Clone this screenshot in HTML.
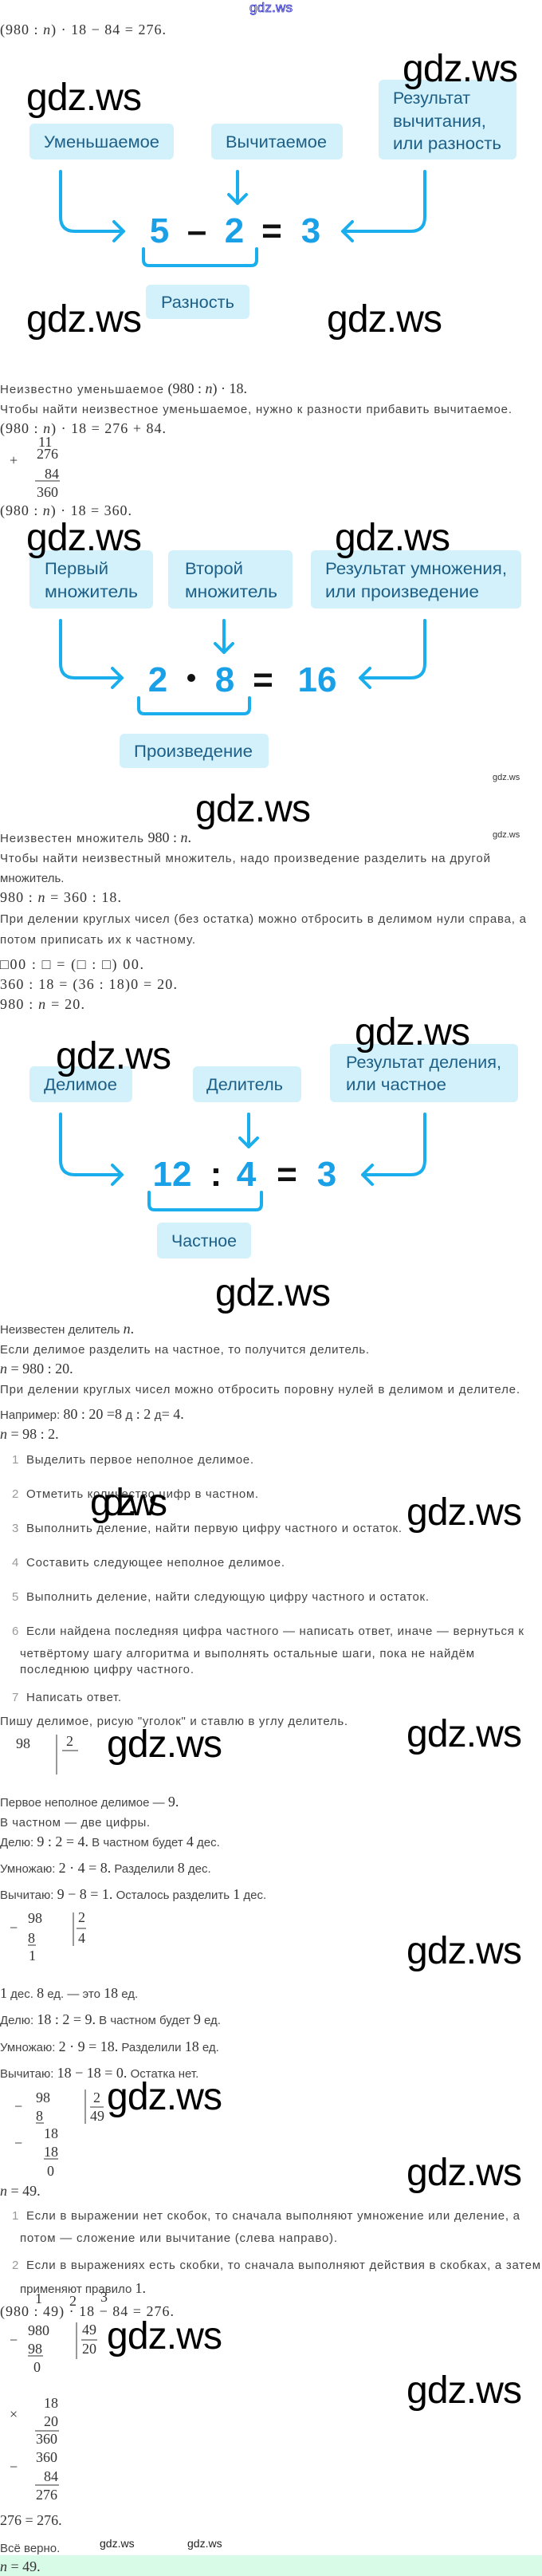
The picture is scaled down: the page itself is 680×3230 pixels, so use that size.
<!DOCTYPE html>
<html><head><meta charset="utf-8">
<style>
html,body{margin:0;padding:0;background:#fff;}
svg{display:block;}
.s{font-family:"Liberation Sans",sans-serif;font-size:15px;fill:#444;}
.m{font-family:"Liberation Serif",serif;font-size:18px;fill:#333;}
.b{font-family:"Liberation Sans",sans-serif;font-size:21px;fill:#1d5f86;}
.n{font-family:"Liberation Sans",sans-serif;font-size:44px;font-weight:bold;fill:#1aa0e6;}
.o{font-family:"Liberation Sans",sans-serif;font-size:44px;font-weight:bold;fill:#111;}
.w{font-family:"Liberation Sans",sans-serif;font-size:48px;fill:#000;}
.li{font-family:"Liberation Sans",sans-serif;font-size:15px;fill:#999;}
.a{fill:none;stroke:#1aaeed;stroke-width:4;stroke-linecap:round;stroke-linejoin:round;}
.box{fill:#d2f1fb;}
</style></head><body>
<svg width="680" height="3230" viewBox="0 0 680 3230" xmlns="http://www.w3.org/2000/svg">
<text x="313" y="15" font-family="Liberation Sans" font-size="17" fill="#dde" stroke="#33c" stroke-width="0.8" textLength="54">gdz.ws</text>
<text class="m" x="0" y="43" textLength="208">(980 : <tspan font-style="italic">n</tspan>) · 18 − 84 = 276.</text>

<!-- Diagram 1 -->
<rect class="box" x="37" y="155" width="181" height="45" rx="6"/>
<text class="b" x="55" y="185" textLength="145" lengthAdjust="spacingAndGlyphs">Уменьшаемое</text>
<rect class="box" x="265" y="155" width="165" height="45" rx="6"/>
<text class="b" x="283" y="185" textLength="127" lengthAdjust="spacingAndGlyphs">Вычитаемое</text>
<rect class="box" x="475" y="100" width="173" height="100" rx="6"/>
<text class="b" x="493" y="130" textLength="97" lengthAdjust="spacingAndGlyphs">Результат</text>
<text class="b" x="493" y="159" textLength="117" lengthAdjust="spacingAndGlyphs">вычитания,</text>
<text class="b" x="493" y="187" textLength="136" lengthAdjust="spacingAndGlyphs">или разность</text>
<path class="a" d="M76 215 V272 Q76 290 94 290 H155 M143 278 L155 290 L143 302"/>
<path class="a" d="M298 215 V255 M287 244 L298 255 L309 244"/>
<path class="a" d="M533 215 V272 Q533 290 515 290 H430 M442 278 L430 290 L442 302"/>
<text class="n" x="200" y="304" text-anchor="middle">5</text>
<text class="o" x="247" y="304" text-anchor="middle">–</text>
<text class="n" x="294" y="304" text-anchor="middle">2</text>
<text class="o" x="341" y="304" text-anchor="middle">=</text>
<text class="n" x="390" y="304" text-anchor="middle">3</text>
<path class="a" d="M180 312 V326 Q180 333 187 333 H315 Q322 333 322 326 V312"/>
<rect class="box" x="183" y="357" width="130" height="43" rx="6"/>
<text class="b" x="202" y="386" textLength="92" lengthAdjust="spacingAndGlyphs">Разность</text>

<text class="w" x="505" y="102" textLength="145">gdz.ws</text>
<text class="w" x="33" y="138" textLength="145">gdz.ws</text>
<text class="w" x="33" y="416" textLength="145">gdz.ws</text>
<text class="w" x="410" y="416" textLength="145">gdz.ws</text>

<text class="s" x="0" y="493"><tspan textLength="205">Неизвестно уменьшаемое</tspan><tspan class="m"> (980 : <tspan font-style="italic">n</tspan>) · 18.</tspan></text>
<text class="s" x="0" y="518" textLength="642">Чтобы найти неизвестное уменьшаемое, нужно к разности прибавить вычитаемое.</text>
<text class="m" x="0" y="543" textLength="208">(980 : <tspan font-style="italic">n</tspan>) · 18 = 276 + 84.</text>
<text class="m" x="48" y="560" font-size="14">11</text>
<text class="m" x="46" y="575">276</text>
<text class="m" x="12" y="583">+</text>
<text class="m" x="56" y="600">84</text>
<line x1="44" y1="603" x2="75" y2="603" stroke="#333" stroke-width="1"/>
<text class="m" x="46" y="623">360</text>
<text class="m" x="0" y="646" textLength="165">(980 : <tspan font-style="italic">n</tspan>) · 18 = 360.</text>

<!-- Diagram 2 -->
<rect class="box" x="37" y="690" width="155" height="73" rx="6"/>
<text class="b" x="56" y="720" textLength="80" lengthAdjust="spacingAndGlyphs">Первый</text>
<text class="b" x="56" y="749" textLength="117" lengthAdjust="spacingAndGlyphs">множитель</text>
<rect class="box" x="211" y="690" width="156" height="73" rx="6"/>
<text class="b" x="232" y="720" textLength="73" lengthAdjust="spacingAndGlyphs">Второй</text>
<text class="b" x="232" y="749" textLength="116" lengthAdjust="spacingAndGlyphs">множитель</text>
<rect class="box" x="390" y="690" width="264" height="73" rx="6"/>
<text class="b" x="408" y="720" textLength="228" lengthAdjust="spacingAndGlyphs">Результат умножения,</text>
<text class="b" x="408" y="749" textLength="193" lengthAdjust="spacingAndGlyphs">или произведение</text>
<path class="a" d="M76 778 V832 Q76 850 94 850 H153 M141 838 L153 850 L141 862"/>
<path class="a" d="M281 778 V818 M270 807 L281 818 L292 807"/>
<path class="a" d="M533 778 V832 Q533 850 515 850 H452 M464 838 L452 850 L464 862"/>
<text class="n" x="198" y="867" text-anchor="middle" font-size="46">2</text>
<circle cx="240" cy="850" r="5" fill="#111"/>
<text class="n" x="282" y="867" text-anchor="middle" font-size="46">8</text>
<text class="o" x="330" y="867" text-anchor="middle" font-size="46">=</text>
<text class="n" x="398" y="867" text-anchor="middle" font-size="46">16</text>
<path class="a" d="M174 875 V888 Q174 895 181 895 H306 Q313 895 313 888 V875"/>
<rect class="box" x="150" y="920" width="187" height="43" rx="6"/>
<text class="b" x="168" y="949" textLength="149" lengthAdjust="spacingAndGlyphs">Произведение</text>

<text class="w" x="33" y="690" textLength="145">gdz.ws</text>
<text class="w" x="420" y="690" textLength="145">gdz.ws</text>
<text x="618" y="978" font-family="Liberation Sans" font-size="11" fill="#333">gdz.ws</text>
<text class="w" x="245" y="1030" textLength="145">gdz.ws</text>

<text class="s" x="0" y="1056"><tspan textLength="180">Неизвестен множитель</tspan><tspan class="m"> 980 : <tspan font-style="italic">n</tspan>.</tspan></text>
<text x="618" y="1050" font-family="Liberation Sans" font-size="11" fill="#333">gdz.ws</text>
<text class="s" x="0" y="1081" textLength="615">Чтобы найти неизвестный множитель, надо произведение разделить на другой</text>
<text class="s" x="0" y="1106">множитель.</text>
<text class="m" x="0" y="1131" textLength="152">980 : <tspan font-style="italic">n</tspan> = 360 : 18.</text>
<text class="s" x="0" y="1157" textLength="660">При делении круглых чисел (без остатка) можно отбросить в делимом нули справа, а</text>
<text class="s" x="0" y="1183" textLength="245">потом приписать их к частному.</text>
<text class="m" x="0" y="1215" textLength="180">□00 : □ = (□ : □) 00.</text>
<text class="m" x="0" y="1240" textLength="222">360 : 18 = (36 : 18)0 = 20.</text>
<text class="m" x="0" y="1265" textLength="106">980 : <tspan font-style="italic">n</tspan> = 20.</text>

<!-- Diagram 3 -->
<rect class="box" x="37" y="1337" width="129" height="45" rx="6"/>
<text class="b" x="55" y="1367" textLength="92" lengthAdjust="spacingAndGlyphs">Делимое</text>
<rect class="box" x="242" y="1337" width="136" height="45" rx="6"/>
<text class="b" x="259" y="1367" textLength="96" lengthAdjust="spacingAndGlyphs">Делитель</text>
<rect class="box" x="414" y="1309" width="236" height="73" rx="6"/>
<text class="b" x="434" y="1339" textLength="195" lengthAdjust="spacingAndGlyphs">Результат деления,</text>
<text class="b" x="434" y="1367" textLength="126" lengthAdjust="spacingAndGlyphs">или частное</text>
<path class="a" d="M76 1397 V1455 Q76 1473 94 1473 H153 M141 1461 L153 1473 L141 1485"/>
<path class="a" d="M312 1397 V1438 M301 1427 L312 1438 L323 1427"/>
<path class="a" d="M533 1397 V1455 Q533 1473 515 1473 H455 M467 1461 L455 1473 L467 1485"/>
<text class="n" x="216" y="1487" text-anchor="middle">12</text>
<text class="o" x="271" y="1487" text-anchor="middle">:</text>
<text class="n" x="309" y="1487" text-anchor="middle">4</text>
<text class="o" x="360" y="1487" text-anchor="middle">=</text>
<text class="n" x="410" y="1487" text-anchor="middle">3</text>
<path class="a" d="M187 1495 V1510 Q187 1517 194 1517 H321 Q328 1517 328 1510 V1495"/>
<rect class="box" x="197" y="1533" width="118" height="45" rx="6"/>
<text class="b" x="215" y="1563" textLength="82" lengthAdjust="spacingAndGlyphs">Частное</text>

<text class="w" x="445" y="1310" textLength="145">gdz.ws</text>
<text class="w" x="70" y="1340" textLength="145">gdz.ws</text>
<text class="w" x="270" y="1637" textLength="145">gdz.ws</text>

<text class="s" x="0" y="1672"><tspan>Неизвестен делитель </tspan><tspan class="m" font-style="italic">n</tspan><tspan class="m">.</tspan></text>
<text class="s" x="0" y="1697" textLength="463">Если делимое разделить на частное, то получится делитель.</text>
<text class="m" x="0" y="1722"><tspan font-style="italic">n</tspan> = 980 : 20.</text>
<text class="s" x="0" y="1747" textLength="652">При делении круглых чисел можно отбросить поровну нулей в делимом и делителе.</text>
<text class="s" x="0" y="1779">Например: <tspan class="m">80 : 20 =8 </tspan>д<tspan class="m"> : 2 </tspan>д<tspan class="m">= 4.</tspan></text>
<text class="m" x="0" y="1804"><tspan font-style="italic">n</tspan> = 98 : 2.</text>

<text class="li" x="15" y="1835">1</text><text class="s" x="33" y="1835" textLength="285">Выделить первое неполное делимое.</text>
<text class="li" x="15" y="1878">2</text><text class="s" x="33" y="1878" textLength="291">Отметить количество цифр в частном.</text>
<text class="li" x="15" y="1921">3</text><text class="s" x="33" y="1921" textLength="471">Выполнить деление, найти первую цифру частного и остаток.</text>
<text class="li" x="15" y="1964">4</text><text class="s" x="33" y="1964" textLength="324">Составить следующее неполное делимое.</text>
<text class="li" x="15" y="2007">5</text><text class="s" x="33" y="2007" textLength="505">Выполнить деление, найти следующую цифру частного и остаток.</text>
<text class="li" x="15" y="2050">6</text><text class="s" x="33" y="2050" textLength="624">Если найдена последняя цифра частного — написать ответ, иначе — вернуться к</text>
<text class="s" x="25" y="2078" textLength="570">четвёртому шагу алгоритма и выполнять остальные шаги, пока не найдём</text>
<text class="s" x="25" y="2098" textLength="218">последнюю цифру частного.</text>
<text class="li" x="15" y="2133">7</text><text class="s" x="33" y="2133" textLength="119">Написать ответ.</text>
<text class="s" x="0" y="2163" textLength="436">Пишу делимое, рисую "уголок" и ставлю в углу делитель.</text>
<text class="m" x="20" y="2192">98</text>
<line x1="71" y1="2175" x2="71" y2="2225" stroke="#333" stroke-width="1"/>
<text class="m" x="83" y="2189">2</text>
<line x1="78" y1="2195" x2="98" y2="2195" stroke="#333" stroke-width="1"/>

<text class="w" x="113" y="1900" font-size="32" textLength="97">gdz.ws</text>
<text class="w" x="510" y="1912" textLength="145">gdz.ws</text>
<text class="w" x="510" y="2190" textLength="145">gdz.ws</text>
<text class="w" x="134" y="2203" textLength="145">gdz.ws</text>

<text class="s" x="0" y="2265">Первое неполное делимое — <tspan class="m">9.</tspan></text>
<text class="s" x="0" y="2290" textLength="188">В частном — две цифры.</text>
<text class="s" x="0" y="2315">Делю: <tspan class="m">9 : 2 = 4.</tspan> В частном будет <tspan class="m">4</tspan> дес.</text>
<text class="s" x="0" y="2348">Умножаю: <tspan class="m">2 · 4 = 8.</tspan> Разделили <tspan class="m">8</tspan> дес.</text>
<text class="s" x="0" y="2381">Вычитаю: <tspan class="m">9 − 8 = 1.</tspan> Осталось разделить <tspan class="m">1</tspan> дес.</text>
<text class="m" x="12" y="2423" fill="#999">−</text>
<text class="m" x="35" y="2411">98</text>
<text class="m" x="35" y="2436">8</text>
<line x1="35" y1="2439" x2="45" y2="2439" stroke="#333"/>
<text class="m" x="36" y="2458">1</text>
<line x1="92" y1="2398" x2="92" y2="2440" stroke="#333"/>
<text class="m" x="98" y="2410">2</text>
<line x1="96" y1="2418" x2="108" y2="2418" stroke="#333"/>
<text class="m" x="98" y="2436">4</text>
<text class="w" x="510" y="2462" textLength="145">gdz.ws</text>

<text class="s" x="0" y="2505"><tspan class="m">1</tspan> дес. <tspan class="m">8</tspan> ед. — это <tspan class="m">18</tspan> ед.</text>
<text class="s" x="0" y="2538">Делю: <tspan class="m">18 : 2 = 9.</tspan> В частном будет <tspan class="m">9</tspan> ед.</text>
<text class="s" x="0" y="2572">Умножаю: <tspan class="m">2 · 9 = 18.</tspan> Разделили <tspan class="m">18</tspan> ед.</text>
<text class="s" x="0" y="2605">Вычитаю: <tspan class="m">18 − 18 = 0.</tspan> Остатка нет.</text>
<text class="m" x="18" y="2647" fill="#999">−</text>
<text class="m" x="45" y="2636">98</text>
<text class="m" x="45" y="2659">8</text>
<line x1="45" y1="2662" x2="55" y2="2662" stroke="#333"/>
<text class="m" x="18" y="2693" fill="#999">−</text>
<text class="m" x="55" y="2681">18</text>
<text class="m" x="55" y="2704">18</text>
<line x1="55" y1="2707" x2="73" y2="2707" stroke="#333"/>
<text class="m" x="59" y="2728">0</text>
<line x1="107" y1="2620" x2="107" y2="2663" stroke="#333"/>
<text class="m" x="117" y="2636" font-size="16">2</text>
<line x1="113" y1="2642" x2="130" y2="2642" stroke="#333"/>
<text class="m" x="113" y="2659" font-size="16">49</text>
<text class="w" x="134" y="2645" textLength="145">gdz.ws</text>
<text class="w" x="510" y="2740" textLength="145">gdz.ws</text>

<text class="m" x="0" y="2753"><tspan font-style="italic">n</tspan> = 49.</text>
<text class="li" x="15" y="2783">1</text><text class="s" x="33" y="2783" textLength="619">Если в выражении нет скобок, то сначала выполняют умножение или деление, а</text>
<text class="s" x="25" y="2811" textLength="398">потом — сложение или вычитание (слева направо).</text>
<text class="li" x="15" y="2845">2</text><text class="s" x="33" y="2845" textLength="645">Если в выражениях есть скобки, то сначала выполняют действия в скобках, а затем</text>
<text class="s" x="25" y="2875">применяют правило <tspan class="m">1.</tspan></text>
<text class="m" x="0" y="2904" textLength="218">(980 : 49) · 18 − 84 = 276.</text>
<text class="m" x="44" y="2888" font-size="12">1</text>
<text class="m" x="87" y="2891" font-size="12">2</text>
<text class="m" x="126" y="2886" font-size="12">3</text>
<text class="m" x="12" y="2940" fill="#999">−</text>
<text class="m" x="35" y="2928">980</text>
<text class="m" x="35" y="2951">98</text>
<line x1="35" y1="2954" x2="54" y2="2954" stroke="#333"/>
<text class="m" x="42" y="2974">0</text>
<line x1="96" y1="2912" x2="96" y2="2958" stroke="#333"/>
<text class="m" x="103" y="2927" font-size="16">49</text>
<line x1="102" y1="2934" x2="122" y2="2934" stroke="#333"/>
<text class="m" x="103" y="2951" font-size="16">20</text>
<text class="w" x="134" y="2945" textLength="145">gdz.ws</text>
<text class="w" x="510" y="3013" textLength="145">gdz.ws</text>

<text class="m" x="55" y="3019">18</text>
<text class="m" x="12" y="3033" fill="#999">×</text>
<text class="m" x="55" y="3042">20</text>
<line x1="44" y1="3048" x2="74" y2="3048" stroke="#333"/>
<text class="m" x="45" y="3064">360</text>
<text class="m" x="45" y="3087">360</text>
<text class="m" x="12" y="3099" fill="#999">−</text>
<text class="m" x="55" y="3111">84</text>
<line x1="44" y1="3116" x2="74" y2="3116" stroke="#333"/>
<text class="m" x="45" y="3134">276</text>
<text class="m" x="0" y="3166">276 = 276.</text>
<text class="s" x="0" y="3200">Всё верно.</text>
<text x="125" y="3194" font-family="Liberation Sans" font-size="14" fill="#222">gdz.ws</text>
<text x="235" y="3194" font-family="Liberation Sans" font-size="14" fill="#222">gdz.ws</text>
<rect x="0" y="3204" width="680" height="26" fill="#d8fbe8"/>
<text class="m" x="0" y="3224"><tspan font-style="italic">n</tspan> = 49.</text>
</svg>
</body></html>
